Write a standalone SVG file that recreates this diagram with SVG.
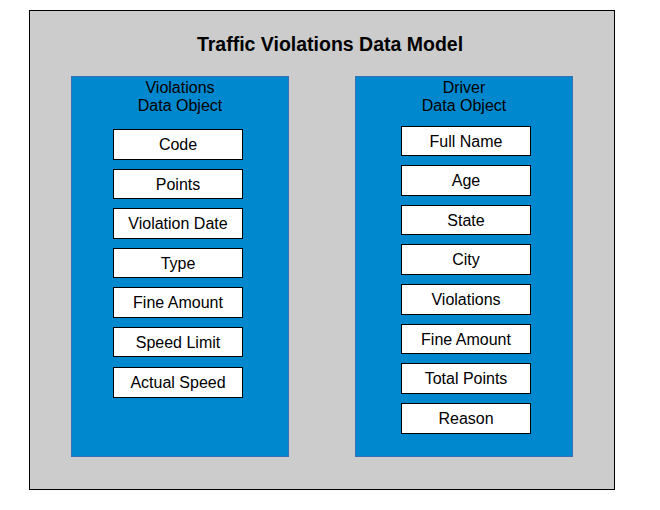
<svg xmlns="http://www.w3.org/2000/svg" width="660" height="510" viewBox="0 0 660 510">
<style>
.bg{fill:#ffffff}
.outer{fill:#cccccc;stroke:#000000;stroke-width:1}
.panel{fill:#0088ce;stroke:#3a6fb5;stroke-width:1}
.field{fill:#ffffff;stroke:#000000;stroke-width:1}
.title{font-family:"Liberation Sans",Arial,sans-serif;font-size:19.5px;font-weight:bold;fill:#000000;text-anchor:middle}
.ptitle{font-family:"Liberation Sans",Arial,sans-serif;font-size:16px;fill:#000000;text-anchor:middle}
.label{font-family:"Liberation Sans",Arial,sans-serif;font-size:16px;fill:#000000;text-anchor:middle}
</style>
<rect class="bg" x="0" y="0" width="660" height="510"/>
<g id="model">
<rect class="outer" x="29.5" y="10.5" width="585" height="479"/>
<text class="title" x="330" y="51">Traffic Violations Data Model</text>
</g>
<g id="violations">
<rect class="panel" x="71.5" y="76.5" width="217" height="380"/>
<text class="ptitle" x="180" y="93">Violations</text>
<text class="ptitle" x="180" y="111">Data Object</text>
</g>
<g id="v-code"><rect class="field" x="113.5" y="129.5" width="129" height="30"/><text class="label" x="178" y="150">Code</text></g>
<g id="v-points"><rect class="field" x="113.5" y="169.5" width="129" height="29"/><text class="label" x="178" y="189.5">Points</text></g>
<g id="v-date"><rect class="field" x="113.5" y="208.5" width="129" height="30"/><text class="label" x="178" y="229">Violation Date</text></g>
<g id="v-type"><rect class="field" x="113.5" y="248.5" width="129" height="29"/><text class="label" x="178" y="268.5">Type</text></g>
<g id="v-fine"><rect class="field" x="113.5" y="287.5" width="129" height="30"/><text class="label" x="178" y="308">Fine Amount</text></g>
<g id="v-speedlimit"><rect class="field" x="113.5" y="327.5" width="129" height="29"/><text class="label" x="178" y="347.5">Speed Limit</text></g>
<g id="v-actual"><rect class="field" x="113.5" y="367.5" width="129" height="30"/><text class="label" x="178" y="388">Actual Speed</text></g>
<g id="driver">
<rect class="panel" x="355.5" y="76.5" width="217" height="380"/>
<text class="ptitle" x="464" y="93">Driver</text>
<text class="ptitle" x="464" y="111">Data Object</text>
</g>
<g id="d-name"><rect class="field" x="401.5" y="126.5" width="129" height="29"/><text class="label" x="466" y="146.5">Full Name</text></g>
<g id="d-age"><rect class="field" x="401.5" y="165.5" width="129" height="30"/><text class="label" x="466" y="186">Age</text></g>
<g id="d-state"><rect class="field" x="401.5" y="205.5" width="129" height="29"/><text class="label" x="466" y="225.5">State</text></g>
<g id="d-city"><rect class="field" x="401.5" y="244.5" width="129" height="30"/><text class="label" x="466" y="265">City</text></g>
<g id="d-violations"><rect class="field" x="401.5" y="284.5" width="129" height="30"/><text class="label" x="466" y="305">Violations</text></g>
<g id="d-fine"><rect class="field" x="401.5" y="324.5" width="129" height="29"/><text class="label" x="466" y="344.5">Fine Amount</text></g>
<g id="d-points"><rect class="field" x="401.5" y="363.5" width="129" height="30"/><text class="label" x="466" y="384">Total Points</text></g>
<g id="d-reason"><rect class="field" x="401.5" y="403.5" width="129" height="30"/><text class="label" x="466" y="424">Reason</text></g>
<g id="connectors"></g>
</svg>
